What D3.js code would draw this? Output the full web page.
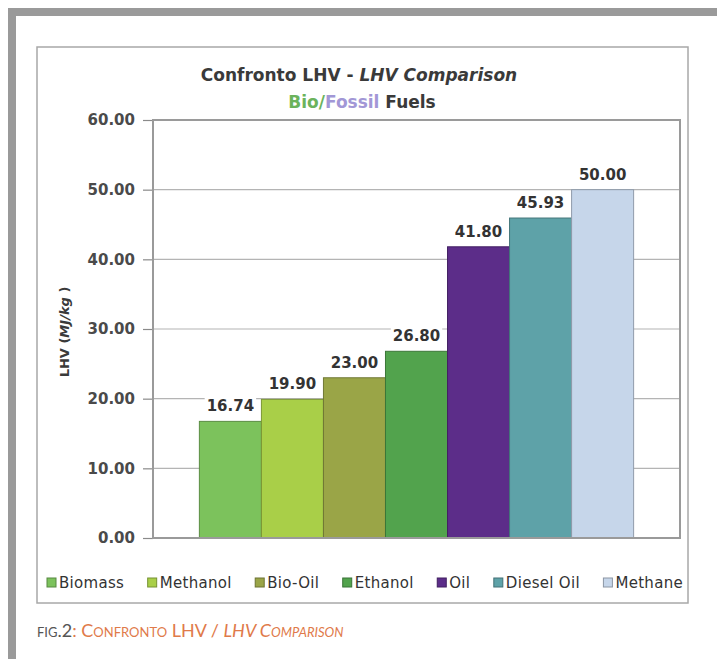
<!DOCTYPE html>
<html>
<head>
<meta charset="utf-8">
<script src="https://cdn.jsdelivr.net/npm/d3@7"></script>
<style>
  html, body { margin: 0; padding: 0; background: #fff; }
  svg { display: block; }
</style>
</head>
<body>
<svg id="chart" width="717" height="659"></svg>
<script>
// ---- data ----
const fuels = ["Biomass", "Methanol", "Bio-Oil", "Ethanol", "Oil", "Diesel Oil", "Methane"];
const lhvValues = [16.74, 19.90, 23.00, 26.80, 41.80, 45.93, 50.00];
const fuelColors = ["#7cc25c", "#a9cf48", "#9aa547", "#52a34d", "#5c2d89", "#5ea2a8", "#c6d6ea"];
const yTickValues = [0, 10, 20, 30, 40, 50, 60];

const svg = d3.select("#chart");
const W = 717, H = 659;

// page frame (gray bands)
svg.append("rect").attr("x", 8).attr("y", 8).attr("width", W - 8).attr("height", 8).attr("fill", "#9a9a9a");
svg.append("rect").attr("x", 8).attr("y", 8).attr("width", 8).attr("height", H - 8).attr("fill", "#9a9a9a");

// chart box
svg.append("rect").attr("x", 37).attr("y", 47).attr("width", 651).attr("height", 556)
  .attr("fill", "#fff").attr("stroke", "#a8a8a8").attr("stroke-width", 1.5);

const plot = { left: 153, right: 680, top: 120, bottom: 538 };
const font = "'DejaVu Sans', sans-serif";

const y = d3.scaleLinear().domain([0, 60]).range([plot.bottom, plot.top]);
const gapOuter = (plot.right - plot.left) * 0.088;
const x = d3.scaleBand().domain(fuels).range([plot.left + gapOuter, plot.right - gapOuter]).padding(0);

// gridlines
svg.append("g").selectAll("line").data(yTickValues.filter(v => v > 0 && v < 60)).join("line")
  .attr("x1", plot.left).attr("x2", plot.right)
  .attr("y1", d => y(d)).attr("y2", d => y(d))
  .attr("stroke", "#b4b4b4").attr("stroke-width", 1.2);

// y axis
const yAxis = d3.axisLeft(y).tickValues(yTickValues).tickFormat(d3.format(".2f")).tickSize(10).tickPadding(8);
const gy = svg.append("g").attr("transform", `translate(${plot.left},0)`).call(yAxis);
gy.select(".domain").remove();
gy.selectAll(".tick line").attr("stroke", "#8a8a8a").attr("stroke-width", 1.2);
gy.selectAll(".tick text").attr("font-family", font).attr("font-weight", "bold")
  .attr("font-size", 15).attr("fill", "#4a4a4a");

// bars
svg.append("g").selectAll("rect").data(fuels).join("rect")
  .attr("x", d => x(d)).attr("width", x.bandwidth())
  .attr("y", (d, i) => y(lhvValues[i])).attr("height", (d, i) => y(0) - y(lhvValues[i]))
  .attr("fill", (d, i) => fuelColors[i])
  .attr("stroke", (d, i) => d3.color(fuelColors[i]).darker(0.9)).attr("stroke-width", 1);

// plot border
svg.append("rect").attr("x", plot.left).attr("y", plot.top)
  .attr("width", plot.right - plot.left).attr("height", plot.bottom - plot.top)
  .attr("fill", "none").attr("stroke", "#9a9a9a").attr("stroke-width", 2);

// value labels
const lg = svg.append("g");
fuels.forEach((f, i) => {
  const cx = x(f) + x.bandwidth() / 2;
  const by = y(lhvValues[i]) - 10;
  const t = lg.append("text").attr("x", cx).attr("y", by)
    .attr("text-anchor", "middle").attr("font-family", font).attr("font-weight", "bold")
    .attr("font-size", 15).attr("fill", "#333").text(d3.format(".2f")(lhvValues[i]));
  const bb = t.node().getBBox();
  lg.insert("rect", "text").attr("x", bb.x - 2).attr("y", bb.y - 1)
    .attr("width", bb.width + 4).attr("height", bb.height + 2).attr("fill", "#fff");
});

// title
const t1 = svg.append("text").attr("x", 359).attr("y", 81).attr("text-anchor", "middle")
  .attr("font-family", font).attr("font-weight", "bold").attr("font-size", 17).attr("fill", "#3a3a3a");
t1.append("tspan").text("Confronto LHV - ");
t1.append("tspan").attr("font-style", "italic").text("LHV Comparison");
const t2 = svg.append("text").attr("x", 362).attr("y", 108).attr("text-anchor", "middle")
  .attr("font-family", font).attr("font-weight", "bold").attr("font-size", 17);
t2.append("tspan").attr("fill", "#6bb35c").text("Bio/");
t2.append("tspan").attr("fill", "#a297d6").text("Fossil");
t2.append("tspan").attr("fill", "#3a3a3a").text(" Fuels");

// y axis title
const yt = svg.append("text").attr("transform", `translate(69,332) rotate(-90)`)
  .attr("text-anchor", "middle").attr("font-family", font).attr("font-weight", "bold")
  .attr("font-size", 13).attr("fill", "#3a3a3a");
yt.append("tspan").text("LHV (");
yt.append("tspan").attr("font-style", "italic").text("MJ/kg");
yt.append("tspan").text(" )");

// legend (justified between 47 and 683)
const legG = svg.append("g");
const items = fuels.map((f, i) => {
  const g = legG.append("g");
  g.append("rect").attr("x", 0).attr("y", -5).attr("width", 9).attr("height", 9)
    .attr("fill", fuelColors[i]).attr("stroke", d3.color(fuelColors[i]).darker(1)).attr("stroke-width", 1);
  const t = g.append("text").attr("x", 12).attr("y", 5).attr("font-family", font)
    .attr("font-size", 15).attr("fill", "#333").attr("letter-spacing", 0.3).text(f);
  return { g, w: 12 + t.node().getComputedTextLength() };
});
const total = d3.sum(items, d => d.w);
const gap = (683 - 47 - total) / (items.length - 1);
let cx = 47;
items.forEach(it => { it.g.attr("transform", `translate(${cx},583)`); cx += it.w + gap; });

// caption
const cap = svg.append("text").attr("x", 37).attr("y", 637)
  .attr("font-family", "Lato, 'Open Sans', sans-serif").attr("font-size", 18)
  .style("font-variant", "small-caps");
cap.append("tspan").attr("fill", "#555").text("fig.2");
cap.append("tspan").attr("fill", "#e07a4a").text(": Confronto LHV / ");
cap.append("tspan").attr("fill", "#e07a4a").attr("font-style", "italic").text("LHV Comparison");
</script>
</body>
</html>
